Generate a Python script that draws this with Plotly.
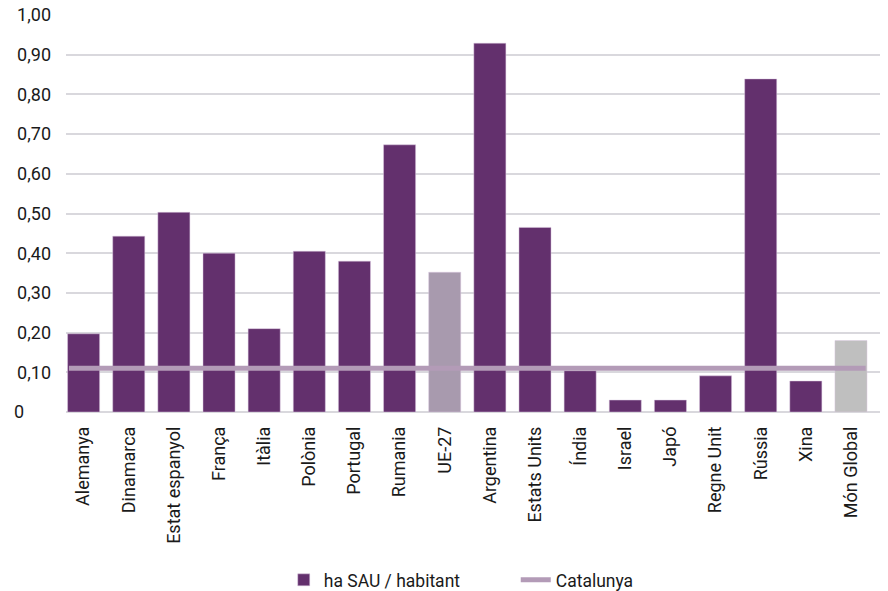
import plotly.graph_objects as go

categories = ["Alemanya", "Dinamarca", "Estat espanyol", "França", "Itàlia", "Polònia",
              "Portugal", "Rumania", "UE-27", "Argentina", "Estats Units", "Índia",
              "Israel", "Japó", "Regne Unit", "Rússia", "Xina", "Món Global"]
ha_sau = [0.197, 0.443, 0.503, 0.400, 0.210, 0.405, 0.380, 0.673, 0.352, 0.929,
          0.465, 0.104, 0.030, 0.030, 0.091, 0.839, 0.078, 0.180]
catalunya_value = 0.11
y_tickvals = [0, 0.1, 0.2, 0.3, 0.4, 0.5, 0.6, 0.7, 0.8, 0.9, 1.0]
y_ticktext = ["0\u00a0\u00a0\u00a0\u00a0\u00a0\u00a0", "0,10", "0,20", "0,30", "0,40", "0,50",
              "0,60", "0,70", "0,80", "0,90", "1,00"]

PURPLE = "#63306d"
UE_COLOR = "#a89aae"
GLOBAL_COLOR = "#bfbfbf"
LINE_COLOR = "#b39bb7"
GRID = "#d9d8dd"
BARGAP = 0.29

bar_colors = []
for c in categories:
    if c == "UE-27":
        bar_colors.append(UE_COLOR)
    elif c == "Món Global":
        bar_colors.append(GLOBAL_COLOR)
    else:
        bar_colors.append(PURPLE)

n = len(categories)
xpos = list(range(n))
half = (1 - BARGAP) / 2

fig = go.Figure()
fig.add_trace(go.Bar(
    x=xpos, y=ha_sau, name="ha SAU / habitant",
    marker=dict(color=bar_colors, line=dict(color="rgba(220,200,225,0.8)", width=0.6)),
))
fig.add_trace(go.Scatter(
    x=[-half + 0.03, n - 1 + half - 0.03], y=[catalunya_value, catalunya_value],
    mode="lines", name="Catalunya",
    line=dict(color=LINE_COLOR, width=5),
))

fig.update_layout(
    width=880, height=583,
    margin=dict(l=58, r=0, t=7, b=179),
    paper_bgcolor="white", plot_bgcolor="white",
    bargap=BARGAP,
    font=dict(family="Roboto, Arial, sans-serif", color="#1a1a1a", size=16),
    showlegend=True,
    legend=dict(orientation="h", x=0.2649, xanchor="left", xref="paper",
                y=0.0189, yanchor="middle", yref="container",
                font=dict(size=17.5, color="#1a1a1a"), entrywidth=187, traceorder="normal"),
    xaxis=dict(range=[-0.39, 17.82], tickmode="array", tickvals=xpos, ticktext=categories,
               tickangle=-90, showgrid=False, zeroline=False, showline=False, automargin=False,
               ticks="", ticklabelstandoff=10, tickfont=dict(size=18)),
    yaxis=dict(range=[0, 1.0], tickmode="array", tickvals=y_tickvals, ticktext=y_ticktext,
               showgrid=True, gridcolor=GRID, gridwidth=1.5, zeroline=True, automargin=False,
               zerolinecolor=GRID, zerolinewidth=1.5, showline=False, ticks="",
               ticklabelstandoff=14, ticklabeloverflow="allow", tickfont=dict(size=18)),
)

fig.write_html("out.html")
